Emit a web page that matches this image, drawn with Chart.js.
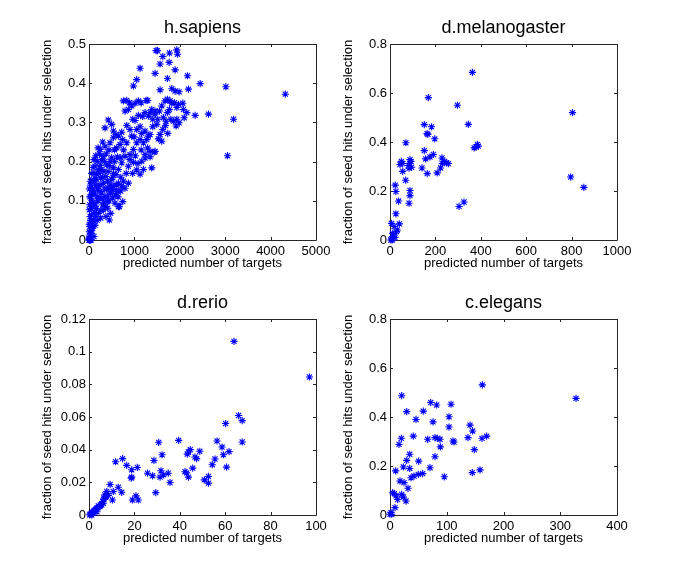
<!DOCTYPE html>
<html>
<head>
<meta charset="utf-8">
<script src="https://cdn.jsdelivr.net/npm/chart.js@4.4.1/dist/chart.umd.min.js"></script>
<style>
  body { margin: 0; background: #fff; }
  #wrap { position: relative; width: 685px; height: 578px; overflow: hidden; background: #fff; }
  canvas { position: absolute; }
</style>
</head>
<body>
<div id="wrap">
  <canvas id="c1" width="322" height="284" style="left:19px;top:0px"></canvas>
  <canvas id="c2" width="322" height="284" style="left:320px;top:0px"></canvas>
  <canvas id="c3" width="322" height="284" style="left:19px;top:275px"></canvas>
  <canvas id="c4" width="322" height="284" style="left:320px;top:275px"></canvas>
</div>
<script>
// =========================
// DATOS
// =========================
const titles = ['h.sapiens', 'd.melanogaster', 'd.rerio', 'c.elegans'];
const xLabel = 'predicted number of targets';
const yLabel = 'fraction of seed hits under selection';
const xMaxes = [5000, 1000, 100, 400];
const xSteps = [1000, 200, 20, 100];
const yMaxes = [0.5, 0.8, 0.12, 0.8];
const ySteps = [0.1, 0.2, 0.02, 0.2];

// [predicted number of targets, fraction]
const hSapiens = [
  [1478,0.483],[1507,0.483],[1934,0.485],[1949,0.474],[1772,0.477],[1625,0.468],[1566,0.449],[1765,0.453],
  [1897,0.434],[1125,0.438],[1456,0.425],[1728,0.412],[2169,0.419],[1051,0.409],[978,0.393],[2449,0.399],
  [3015,0.391],[4324,0.372],[1566,0.383],[1824,0.386],[1985,0.378],[1897,0.380],[2191,0.385],[3184,0.308],
  [3051,0.215],[2632,0.321],[2338,0.318],[2154,0.325],[2096,0.312],[2066,0.349],[1934,0.338],[1934,0.308],
  [1919,0.291],[1603,0.252],[1434,0.224],[1382,0.184],[1125,0.168],[743,0.098],[647,0.085],
  [757,0.355],[831,0.356],[889,0.350],[941,0.342],[1014,0.349],[1088,0.355],[1147,0.350],[1257,0.356],
  [1294,0.356],[1382,0.333],[1455,0.329],[1602,0.342],[1676,0.355],[1727,0.359],[1786,0.355],[1823,0.349],
  [1882,0.350],[1970,0.346],
  [426,0.306],[500,0.295],[794,0.329],[867,0.333],[963,0.308],[1014,0.305],[1088,0.318],[1183,0.315],
  [1235,0.325],[1308,0.316],[1345,0.325],[1404,0.308],[1455,0.321],[1514,0.308],[1551,0.329],[1639,0.312],
  [1698,0.303],[1727,0.325],[1771,0.333],[1801,0.308],[1860,0.303],[1985,0.299],[2080,0.333],
  [353,0.286],[537,0.278],[595,0.269],[647,0.265],[720,0.275],[831,0.292],[904,0.282],[941,0.265],
  [992,0.263],[1051,0.282],[1125,0.289],[1161,0.272],[1235,0.278],[1308,0.265],[1345,0.269],[1404,0.289],
  [1492,0.295],[1566,0.269],[1624,0.282],[1683,0.292],[1735,0.272],
  [243,0.231],[353,0.239],[463,0.248],[537,0.261],[610,0.235],[684,0.244],[742,0.256],[831,0.248],
  [904,0.218],[978,0.231],[1051,0.248],[1125,0.256],[1198,0.248],[1235,0.218],[1272,0.256],[1345,0.226],
  [1455,0.226],[1529,0.258],
  [132,0.188],[206,0.179],[279,0.205],[316,0.214],[390,0.192],[463,0.201],[537,0.184],[625,0.212],
  [720,0.197],[794,0.214],[867,0.188],[978,0.198],[1051,0.179],[1161,0.201],[1235,0.209],[1345,0.212],
  [96,0.154],[169,0.167],[206,0.137],[257,0.158],[316,0.145],[375,0.162],[426,0.132],[500,0.154],
  [537,0.137],[595,0.167],[647,0.145],[720,0.138],[794,0.132],[867,0.145],
  [150,0.140],[220,0.170],[280,0.120],[330,0.175],[410,0.150],[450,0.190],[520,0.160],[560,0.200],
  [600,0.140],[650,0.180],[700,0.160],[350,0.130],[180,0.110],[250,0.190],[300,0.160],[400,0.110],
  [480,0.120],[540,0.170],[620,0.125],[380,0.220],[440,0.230],[500,0.210],[560,0.230],[230,0.220],
  [300,0.250],[180,0.200],[130,0.170],
  [37,0.111],[96,0.120],[132,0.094],[206,0.107],[243,0.124],[301,0.090],[353,0.111],[404,0.098],
  [463,0.120],[522,0.107],[573,0.094],[610,0.124],[669,0.085],
  [7,0.077],[59,0.064],[96,0.051],[154,0.081],[206,0.068],[257,0.056],[316,0.077],[375,0.060],
  [448,0.051],[478,0.068],[412,0.081],
  [5,0.021],[7,0.004],[22,0.034],[59,0.017],[81,0.030],[110,0.009],[132,0.038],
  [10,0],[20,0],[30,0.002],[15,0.010],[40,0.025],[70,0.045],[90,0.035],[5,0.040],[25,0.060],[50,0.080],
  [15,0.090],[60,0.100],[10,0.130],[30,0.150],[80,0.130],[100,0.090],[150,0.060],[200,0.100],[120,0.120],
  [160,0.080],[0,0],[15,0],[30,0],[45,0],
  [60,0.170],[90,0.185],[110,0.205],[150,0.215],[200,0.235],[270,0.180],[340,0.200],[420,0.175],
  [470,0.140],[510,0.130],[580,0.115],[640,0.110],[700,0.125],[760,0.150],[820,0.170],[900,0.205],
  [960,0.170],[1020,0.215],[1080,0.195],[1150,0.230],[1200,0.180],[1290,0.235],[160,0.155],[240,0.140],
  [290,0.105],[370,0.085],[430,0.100],[190,0.130],[110,0.150],[70,0.120],[40,0.140],[20,0.110],
  [35,0.050],[120,0.070],[180,0.050],[260,0.075],[330,0.095],[390,0.130],[700,0.210],[760,0.230]
];

const dMelanogaster = [
  [363,0.684],[169,0.581],[297,0.550],[804,0.520],[151,0.471],[345,0.472],[183,0.462],[163,0.434],
  [167,0.431],[197,0.413],[70,0.397],[385,0.390],[379,0.380],[389,0.383],[371,0.376],[151,0.365],
  [191,0.349],[176,0.339],[157,0.331],[229,0.335],[239,0.321],[230,0.312],[250,0.315],[257,0.312],
  [223,0.294],[141,0.294],[208,0.274],[164,0.271],[50,0.321],[56,0.312],[44,0.308],[88,0.328],
  [92,0.321],[87,0.312],[81,0.304],[95,0.297],[84,0.293],[56,0.280],[69,0.244],[23,0.224],
  [26,0.198],[88,0.202],[88,0.181],[84,0.150],[38,0.159],[26,0.107],[304,0.137],[326,0.155],
  [796,0.257],[854,0.215],
  [7,0.068],[18,0.055],[41,0.066],[32,0.041],[12,0.027],[15,0.014],[7,0.005],[22,0.010],
  [29,0.034],[4,0],[10,0]
];

const dRerio = [
  [63.9,0.1063],[97.1,0.0845],[65.9,0.0609],[67.5,0.0578],[60.2,0.0560],[39.5,0.0457],[56.4,0.0453],
  [67.5,0.0447],[30.7,0.0445],[58.6,0.0416],[48.8,0.0390],[61.7,0.0388],[44.6,0.0400],[43.8,0.0386],
  [43.3,0.0373],[32.2,0.0369],[59.2,0.0369],[46.7,0.0355],[47.4,0.0345],[14.8,0.0345],[11.7,0.0326],
  [28.6,0.0334],[55.5,0.0343],[16.6,0.0304],[18.8,0.0277],[21.3,0.0291],[45.7,0.0287],[54.3,0.0308],
  [60.6,0.0293],[31.7,0.0271],[25.8,0.0256],[28.0,0.0240],[34.9,0.0256],[32.9,0.0246],[31.3,0.0232],
  [42.3,0.0265],[43.0,0.0258],[43.8,0.0232],[18.8,0.0232],[18.6,0.0226],[52.6,0.0236],[50.8,0.0215],
  [52.6,0.0195],[9.3,0.0187],[35.7,0.0199],[12.9,0.0170],[14.4,0.0139],[10.7,0.0144],[29.4,0.0137],
  [20.7,0.0117],[19.1,0.0092],[21.7,0.0092],[10.3,0.0092],
  [7.8,0.0144],[7.0,0.0123],[6.6,0.0103],[6.0,0.0082],[5.6,0.0062],[4.8,0.0051],[3.4,0.0041],
  [2.6,0.0030],[1.9,0.0020],[0.9,0.0010],[0.4,0],[1.2,0],[4.1,0.0055],[6.3,0.0072],[7.5,0.0113],
  [8.1,0.0133],[0.5,0.0005],[1.5,0.0015],[2.2,0.0025],[3.0,0.0035],[4.0,0.0045],[5.0,0.0060],
  [6.5,0.0095],[7.2,0.0110],[8.5,0.0120],[2.0,0.0010],[3.5,0.0020]
];

const cElegans = [
  [162.7,0.531],[327.8,0.476],[20.6,0.487],[71.7,0.459],[82.2,0.449],[107.5,0.452],[29.4,0.422],
  [58.7,0.424],[104,0.401],[45.8,0.390],[75.8,0.380],[141,0.367],[104,0.359],[145.6,0.343],
  [41.1,0.322],[20.0,0.313],[15.9,0.288],[66.4,0.309],[79.3,0.316],[83.4,0.313],[88.1,0.309],
  [111,0.302],[112.8,0.298],[137.4,0.316],[162.1,0.313],[170.3,0.322],[88.7,0.278],[148.6,0.267],
  [79.3,0.238],[34.7,0.248],[29.4,0.223],[50.5,0.220],[23.5,0.196],[34.7,0.190],[70.5,0.193],
  [10.0,0.180],[57.6,0.169],[49.9,0.166],[42.3,0.159],[37.0,0.152],[158.6,0.184],[145,0.173],
  [95.7,0.156],[17.6,0.139],[24.7,0.132],[31.7,0.109],[4.7,0.091],[7.6,0.087],[10.6,0.078],
  [20.6,0.084],[23.5,0.073],[13.5,0.063],[28.2,0.057],[8.8,0.030],[1.8,0.010],[0,0.003],[2.9,0.003]
];

const seriesList = [hSapiens, dMelanogaster, dRerio, cElegans];

// =========================
// ESTILO MATLAB
// =========================
Chart.defaults.font.family = "'Liberation Sans', Arial, Helvetica, sans-serif";
Chart.defaults.font.size = 13;
Chart.defaults.color = '#000';

const fmtTick = v => String(+Number(v).toFixed(6));

// caja + ticks hacia adentro + titulo
const matlabBox = {
  id: 'matlabBox',
  beforeDatasetsDraw(chart, args, opts) {
    const { ctx, chartArea: a, scales } = chart;
    ctx.save();
    ctx.strokeStyle = '#262626';
    ctx.lineWidth = 1;
    ctx.beginPath();
    ctx.rect(a.left + 0.5, a.top + 0.5, a.right - a.left, a.bottom - a.top);
    scales.x.ticks.forEach(t => {
      const px = Math.round(scales.x.getPixelForValue(t.value)) + 0.5;
      ctx.moveTo(px, a.bottom); ctx.lineTo(px, a.bottom - 3);
      ctx.moveTo(px, a.top); ctx.lineTo(px, a.top + 3);
    });
    scales.y.ticks.forEach(t => {
      const py = Math.round(scales.y.getPixelForValue(t.value)) + 0.5;
      ctx.moveTo(a.left, py); ctx.lineTo(a.left + 3, py);
      ctx.moveTo(a.right, py); ctx.lineTo(a.right - 3, py);
    });
    ctx.stroke();
    ctx.fillStyle = '#000';
    ctx.font = "18px 'Liberation Sans', Arial, sans-serif";
    ctx.textAlign = 'center';
    ctx.textBaseline = 'middle';
    ctx.fillText(opts.text, (a.left + a.right) / 2, a.top - 16);
    ctx.restore();
  }
};

function drawPanel(canvasId, i) {
  const el = document.getElementById(canvasId);
  const pts = seriesList[i].map(p => ({ x: p[0], y: p[1] }));
  return new Chart(el.getContext('2d'), {
    type: 'scatter',
    data: {
      datasets: [{
        data: pts,
        pointStyle: 'star',
        radius: 3.6,
        borderColor: '#0000ff',
        backgroundColor: 'rgba(0,0,0,0)',
        borderWidth: 1.1,
        clip: false
      }]
    },
    options: {
      responsive: false,
      animation: false,
      events: [],
      layout: { padding: { top: 44, right: 25, left: 0, bottom: 0 } },
      plugins: {
        legend: { display: false },
        tooltip: { enabled: false },
        matlabBox: { text: titles[i] }
      },
      scales: {
        x: {
          type: 'linear',
          min: 0, max: xMaxes[i],
          grid: { display: false, drawTicks: false },
          border: { display: false },
          ticks: { stepSize: xSteps[i], padding: 4, maxRotation: 0, callback: fmtTick },
          title: { display: true, text: xLabel, padding: { top: 0, bottom: 13 } },
          afterFit: s => { s.height = 44; }
        },
        y: {
          type: 'linear',
          min: 0, max: yMaxes[i],
          grid: { display: false, drawTicks: false },
          border: { display: false },
          ticks: { stepSize: ySteps[i], padding: 3, callback: fmtTick },
          title: { display: true, text: yLabel, padding: { top: 21, bottom: 0 } },
          afterFit: s => { s.width = 70; }
        }
      }
    },
    plugins: [matlabBox]
  });
}

drawPanel('c1', 0);
drawPanel('c2', 1);
drawPanel('c3', 2);
drawPanel('c4', 3);
</script>
</body>
</html>
